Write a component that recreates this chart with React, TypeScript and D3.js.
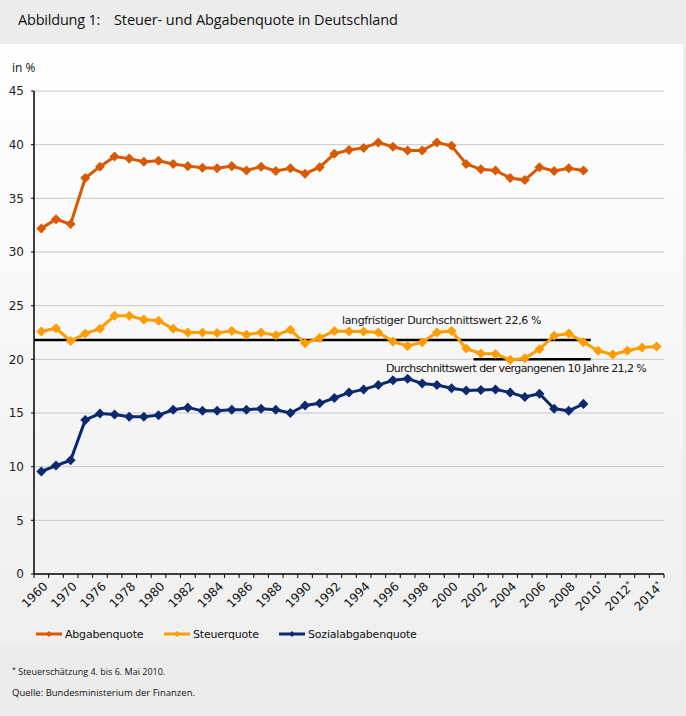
import React from "react";
import * as d3 from "d3";

const categories: string[] = [
  "1960", "1965", "1970", "1975", "1976", "1977", "1978", "1979", "1980", "1981",
  "1982", "1983", "1984", "1985", "1986", "1987", "1988", "1989", "1990", "1991",
  "1992", "1993", "1994", "1995", "1996", "1997", "1998", "1999", "2000", "2001",
  "2002", "2003", "2004", "2005", "2006", "2007", "2008", "2009", "2010*", "2011*",
  "2012*", "2013*", "2014*",
];

const tickLabels: string[] = [
  "1960", "1970", "1976", "1978", "1980", "1982", "1984", "1986", "1988", "1990",
  "1992", "1994", "1996", "1998", "2000", "2002", "2004", "2006", "2008", "2010*",
  "2012*", "2014*",
];

const abgabenquote: number[] = [
  32.2, 33.05, 32.6, 36.9, 37.95, 38.9, 38.7, 38.4, 38.5, 38.2,
  38.0, 37.85, 37.8, 38.0, 37.6, 37.95, 37.55, 37.8, 37.3, 37.9,
  39.15, 39.5, 39.7, 40.2, 39.8, 39.45, 39.45, 40.2, 39.9, 38.2,
  37.7, 37.6, 36.9, 36.7, 37.9, 37.55, 37.8, 37.6,
];

const steuerquote: number[] = [
  22.6, 22.9, 21.7, 22.4, 22.85, 24.05, 24.05, 23.7, 23.6, 22.85,
  22.5, 22.5, 22.45, 22.65, 22.3, 22.5, 22.25, 22.75, 21.5, 22.0,
  22.65, 22.6, 22.6, 22.5, 21.65, 21.25, 21.6, 22.5, 22.65, 21.0,
  20.55, 20.5, 19.95, 20.1, 20.95, 22.2, 22.4, 21.6, 20.8, 20.45,
  20.8, 21.1, 21.2,
];

const sozialabgabenquote: number[] = [
  9.55, 10.1, 10.6, 14.35, 14.95, 14.85, 14.65, 14.65, 14.8, 15.3,
  15.5, 15.2, 15.2, 15.3, 15.3, 15.4, 15.3, 15.0, 15.7, 15.9,
  16.4, 16.9, 17.2, 17.6, 18.05, 18.2, 17.75, 17.6, 17.3, 17.1,
  17.15, 17.2, 16.9, 16.5, 16.8, 15.4, 15.2, 15.85,
];

const seriesNames: string[] = ["Abgabenquote", "Steuerquote", "Sozialabgabenquote"];
const seriesColors: string[] = ["#d95900", "#ff9c00", "#0b2a6e"];

const yTicks: number[] = [0, 5, 10, 15, 20, 25, 30, 35, 40, 45];

// reference lines
const refLongValue = 21.8;
const refLongFrom = "1960";
const refLongTo = "2009";
const refLongLabel = "langfristiger Durchschnittswert 22,6 %";
const refShortValue = 20.0;
const refShortFrom = "2002";
const refShortTo = "2009";
const refShortLabel = "Durchschnittswert der vergangenen 10 Jahre 21,2 %";

const title = "Abbildung 1:";
const titleText = "Steuer- und Abgabenquote in Deutschland";
const footnote = "Steuerschätzung 4. bis 6. Mai 2010.";
const source = "Quelle: Bundesministerium der Finanzen.";

const W = 686;
const H = 716;
const left = 34;
const right = 664;
const top = 91;
const bottom = 574;

export default function App() {
  const x = d3.scaleBand<string>().domain(categories).range([left, right]).padding(0);
  const y = d3.scaleLinear().domain([0, 45]).range([bottom, top]);
  const cx = (c: string) => (x(c) as number) + x.bandwidth() / 2;

  const allSeries = [abgabenquote, steuerquote, sozialabgabenquote];
  const line = d3
    .line<number>()
    .x((_, i) => cx(categories[i]))
    .y((d) => y(d));

  const diamond = d3.symbol().type(d3.symbolDiamond2).size(64)();
  const diamondLegend = d3.symbol().type(d3.symbolDiamond2).size(22)();
  const axisFont = "'DejaVu Sans', Verdana, sans-serif";
  const textFont = "'Open Sans', 'DejaVu Sans', sans-serif";

  const legendX = [36, 164, 279];

  return (
    <svg
      width={W}
      height={H}
      style={{ position: "absolute", left: 0, top: 0, display: "block" }}
    >
      <defs>
        <linearGradient id="panelGrad" x1="0" y1="0" x2="0" y2="1">
          <stop offset="0" stopColor="#ffffff" />
          <stop offset="1" stopColor="#efefef" />
        </linearGradient>
      </defs>
      <rect x={0} y={0} width={W} height={H} fill="#ececec" />
      <rect x={0} y={44} width={683} height={600} fill="url(#panelGrad)" />
      <text x={18} y={25} fontFamily={textFont} fontSize={14.5} letterSpacing={-0.2} fill="#111">
        {title}
      </text>
      <text x={114} y={25} fontFamily={textFont} fontSize={14.5} letterSpacing={-0.1} fill="#111">
        {titleText}
      </text>
      <text x={12} y={72} fontFamily={textFont} fontSize={12} fill="#111">
        in %
      </text>

      {/* grid */}
      {yTicks.map((t) => (
        <g key={t}>
          {t > 0 && (
            <line x1={left} x2={right} y1={y(t)} y2={y(t)} stroke="#c8c8c8" strokeWidth={1} />
          )}
          <line x1={left - 3} x2={left} y1={y(t)} y2={y(t)} stroke="#000" strokeWidth={1} />
          <text
            x={left - 10}
            y={y(t)}
            dy="0.35em"
            textAnchor="end"
            fontFamily={axisFont}
            fontSize={12}
            fill="#222"
          >
            {t}
          </text>
        </g>
      ))}

      {/* axes */}
      <line x1={left} x2={left} y1={top} y2={bottom} stroke="#000" strokeWidth={1.5} />
      <line x1={left} x2={right} y1={bottom} y2={bottom} stroke="#000" strokeWidth={1.5} />
      {categories.map((c) => (
        <line
          key={c}
          x1={x(c) as number}
          x2={x(c) as number}
          y1={bottom}
          y2={bottom + 4}
          stroke="#000"
          strokeWidth={1}
        />
      ))}
      <line x1={right} x2={right} y1={bottom} y2={bottom + 4} stroke="#000" strokeWidth={1} />
      {tickLabels.map((t) => {
        const px = cx(t);
        const star = t.endsWith("*");
        const base = star ? t.slice(0, -1) : t;
        return (
          <text
            key={t}
            transform={`translate(${px + 4},${bottom + 10}) rotate(-45)`}
            textAnchor="end"
            dy="0.35em"
            fontFamily={axisFont}
            fontSize={12}
            fill="#111"
          >
            {base}
            {star && (
              <tspan fontSize={8} dy="-0.5em">
                *
              </tspan>
            )}
          </text>
        );
      })}

      {/* reference lines */}
      <line
        x1={x(refLongFrom) as number}
        x2={(x(refLongTo) as number) + x.bandwidth()}
        y1={y(refLongValue)}
        y2={y(refLongValue)}
        stroke="#000"
        strokeWidth={2.5}
      />
      <line
        x1={x(refShortFrom) as number}
        x2={(x(refShortTo) as number) + x.bandwidth()}
        y1={y(refShortValue)}
        y2={y(refShortValue)}
        stroke="#000"
        strokeWidth={2.5}
      />

      {/* series */}
      {allSeries.map((s, si) => (
        <g key={si}>
          <path d={line(s) as string} fill="none" stroke={seriesColors[si]} strokeWidth={3} />
          {s.map((v, i) => (
            <path
              key={i}
              d={diamond as string}
              transform={`translate(${cx(categories[i])},${y(v)})`}
              fill={seriesColors[si]}
            />
          ))}
        </g>
      ))}

      <text x={342} y={324} fontFamily={axisFont} fontSize={11} fill="#111" letterSpacing={-0.35}>
        {refLongLabel}
      </text>
      <text x={386} y={372} fontFamily={axisFont} fontSize={11} fill="#111" letterSpacing={-0.6}>
        {refShortLabel}
      </text>

      {/* legend */}
      {seriesNames.map((n, i) => (
        <g key={n}>
          <line
            x1={legendX[i]}
            x2={legendX[i] + 26}
            y1={634}
            y2={634}
            stroke={seriesColors[i]}
            strokeWidth={3}
          />
          <path
            d={diamondLegend as string}
            transform={`translate(${legendX[i] + 13},634)`}
            fill={seriesColors[i]}
          />
          <text
            x={legendX[i] + 29}
            y={634}
            dy="0.35em"
            fontFamily={axisFont}
            fontSize={11}
            letterSpacing={-0.2}
            fill="#111"
          >
            {n}
          </text>
        </g>
      ))}

      <text x={12} y={675} fontFamily={textFont} fontSize={9} fill="#111">
        <tspan fontSize={7} dy="-3">*</tspan>
        <tspan dy="3"> {footnote}</tspan>
      </text>
      <text x={12} y={696} fontFamily={textFont} fontSize={9.5} fill="#111">
        {source}
      </text>
    </svg>
  );
}
